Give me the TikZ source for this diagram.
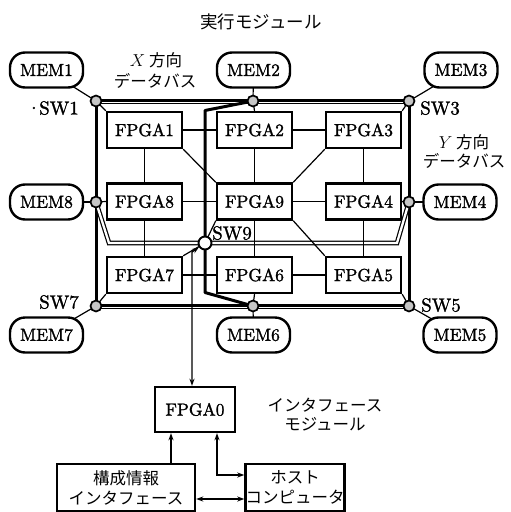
\documentclass[tikz,border=0pt]{standalone}
\usepackage{fontspec}
\newfontfamily\jp{Noto Sans CJK JP}
\newfontfamily\lmf{lmroman10-regular.otf}[FakeBold=1.4]
\usetikzlibrary{arrows.meta}
\pgfdeclarelayer{bg}
\pgfsetlayers{bg,main}
\begin{document}
\begin{tikzpicture}[x=1pt,y=-1pt,
  fpga/.style={draw,line width=2.4pt,fill=white,minimum width=75pt,minimum height=36pt,inner sep=0pt,font=\lmf\fontsize{17.5}{17.5}\selectfont},
  mem/.style={draw,line width=2.4pt,fill=white,rounded corners=15pt,minimum width=73pt,minimum height=35pt,inner sep=0pt,font=\lmf\fontsize{17.5}{17.5}\selectfont},
  sw/.style={circle,draw,line width=1.7pt,fill=gray!45,minimum size=11pt,inner sep=0pt},
  swc/.style={circle,draw,line width=1.9pt,fill=white,minimum size=13pt,inner sep=0pt},
  lbl/.style={font=\lmf\fontsize{19}{19}\selectfont,inner sep=0pt},
  jlbl/.style={font=\jp\fontsize{16.5}{16.5}\selectfont,inner sep=0pt},
  link/.style={line width=1.2pt},
  bus/.style={line width=3pt},
  busthin/.style={line width=1.1pt},
  dbus/.style={double,line width=1.2pt,double distance=2.3pt},
  arr/.style={line width=1.4pt,{Stealth[length=7pt,width=5pt]}-{Stealth[length=7pt,width=5pt]}},
  arrup/.style={line width=1.4pt,-{Stealth[length=7pt,width=5pt]}},
  box/.style={draw,line width=2.4pt,fill=white,inner sep=0pt,align=center,font=\jp\fontsize{16.5}{20}\selectfont}
]
\useasboundingbox (0,0) rectangle (511,512);

% FPGA nodes
\node[fpga] (f1) at (144.5,130) {FPGA1};
\node[fpga] (f2) at (254.5,130) {FPGA2};
\node[fpga] (f3) at (363.5,130) {FPGA3};
\node[fpga] (f8) at (144.5,201.5) {FPGA8};
\node[fpga] (f9) at (254.5,201.5) {FPGA9};
\node[fpga] (f4) at (363.5,201.5) {FPGA4};
\node[fpga] (f7) at (144.5,275) {FPGA7};
\node[fpga] (f6) at (254.5,275) {FPGA6};
\node[fpga] (f5) at (363.5,275) {FPGA5};

% MEM nodes
\node[mem] (m1) at (46.5,70) {MEM1};
\node[mem] (m2) at (253.5,70) {MEM2};
\node[mem] (m3) at (461,70) {MEM3};
\node[mem] (m8) at (46.5,202) {MEM8};
\node[mem] (m4) at (460,202) {MEM4};
\node[mem] (m7) at (46.5,335) {MEM7};
\node[mem] (m6) at (253.5,335) {MEM6};
\node[mem] (m5) at (460,335) {MEM5};

% switches
\node[sw] (s1) at (96,101) {};
\node[sw] (s2) at (253,101) {};
\node[sw] (s3) at (409,101) {};
\node[sw] (s8) at (96,202) {};
\node[sw] (s4) at (409,202) {};
\node[sw] (s7) at (96,306) {};
\node[sw] (s6) at (253,306) {};
\node[sw] (s5) at (409,306) {};
\node[swc] (s9) at (205,243) {};

% interface module
\node[fpga,minimum width=80pt,minimum height=45pt] (f0) at (195,409.5) {FPGA0};
\node[box,minimum width=138pt,minimum height=47pt] (cfg) at (126,487.5) {構成情報\\インタフェース};
\node[box,minimum width=90pt,minimum height=47pt] (host) at (295,487.5) {ホスト\\コンピュータ};

\coordinate (ya) at (205,110.5);
\coordinate (yb) at (205,292.5);
\coordinate (xa) at (109,243);
\coordinate (xb) at (397,243);
\coordinate (ab) at (192,252);

\begin{pgfonlayer}{bg}
  % outer buses
  \draw[bus] ([yshift=1pt]s1.center) -- ([yshift=1pt]s3.center);
  \draw[busthin] ([yshift=-2.7pt]s1.center) -- ([yshift=-2.7pt]s3.center);
  \draw[bus] ([yshift=1pt]s7.center) -- ([yshift=1pt]s5.center);
  \draw[busthin] ([yshift=-2.7pt]s7.center) -- ([yshift=-2.7pt]s5.center);
  \draw[bus] (s1.center) -- (s7.center);
  \draw[bus] (s3.center) -- (s5.center);
  % inner buses
  \draw[dbus] (s8.center) -- (xa) -- (xb) -- (s4.center);
  \draw[bus,line join=round] (s2.center) -- (ya) -- (yb) -- (s6.center);
  % memory links
  \foreach \m/\s in {m1/s1,m2/s2,m3/s3,m8/s8,m4/s4,m7/s7,m6/s6,m5/s5}
    \draw[link] (\m.center) -- (\s.center);
  % switch to FPGA
  \draw[link] (s1.center) -- (f1.north west);
  \draw[link] (s2.center) -- (f2.north);
  \draw[link] (s3.center) -- (f3.north east);
  \draw[link] (s8.center) -- (f8.west);
  \draw[link] (s4.center) -- (f4.east);
  \draw[link] (s7.center) -- (f7.south west);
  \draw[link] (s6.center) -- (f6.south);
  \draw[link] (s5.center) -- (f5.south east);
  % FPGA grid
  \draw[link] (f1) -- (f2);
  \draw[link] (f2) -- (f3);
  \draw[link] (f8) -- (f9);
  \draw[link] (f9) -- (f4);
  \draw[link] (f7) -- (f6);
  \draw[link] (f6) -- (f5);
  \draw[link] (f1) -- (f8);
  \draw[link] (f8) -- (f7);
  \draw[link] (f2) -- (f9);
  \draw[link] (f9) -- (f6);
  \draw[link] (f3) -- (f4);
  \draw[link] (f4) -- (f5);
  \draw[link] (f1.south east) -- (f9.north west);
  \draw[link] (f3.south west) -- (f9.north east);
  \draw[link] (f9.south east) -- (f5.north west);
  \draw[link] (f9.south west) -- (s9.center) -- (f7.north east);
\end{pgfonlayer}

% arrows
\draw[arr] (f0.north -| ab) -- (ab) -- (s9);
\draw[arrup] ([xshift=45pt]cfg.north) -- ([xshift=45pt]cfg.north |- f0.south);
\draw[arr] ([xshift=22pt]f0.south) |- ([yshift=12.5pt]host.west);
\draw[arr] ([yshift=-11.5pt]cfg.east) -- ([yshift=-11.5pt]host.west);

% labels
\node[jlbl,font=\jp\fontsize{17.5}{17.5}\selectfont] (t0) at (261,22) {実行モジュール};
\node[jlbl] (tx1) at (156,60) {$X$ 方向};
\node[jlbl] (tx2) at (155,81) {データバス};
\node[jlbl] (ty1) at (464,142) {$Y$ 方向};
\node[jlbl] (ty2) at (464,161) {データバス};
\node[lbl,anchor=east] (l1) at (79,108) {·\kern-2pt SW1};
\node[lbl,anchor=west] (l3) at (420,108) {SW3};
\node[lbl,anchor=west] (l9) at (212,233) {SW9};
\node[lbl,anchor=east] (l7) at (79,302) {SW7};
\node[lbl,anchor=west] (l5) at (421,305) {SW5};
\node[jlbl] (ti1) at (325,405) {インタフェース};
\node[jlbl] (ti2) at (325,424) {モジュール};
\end{tikzpicture}
\end{document}
